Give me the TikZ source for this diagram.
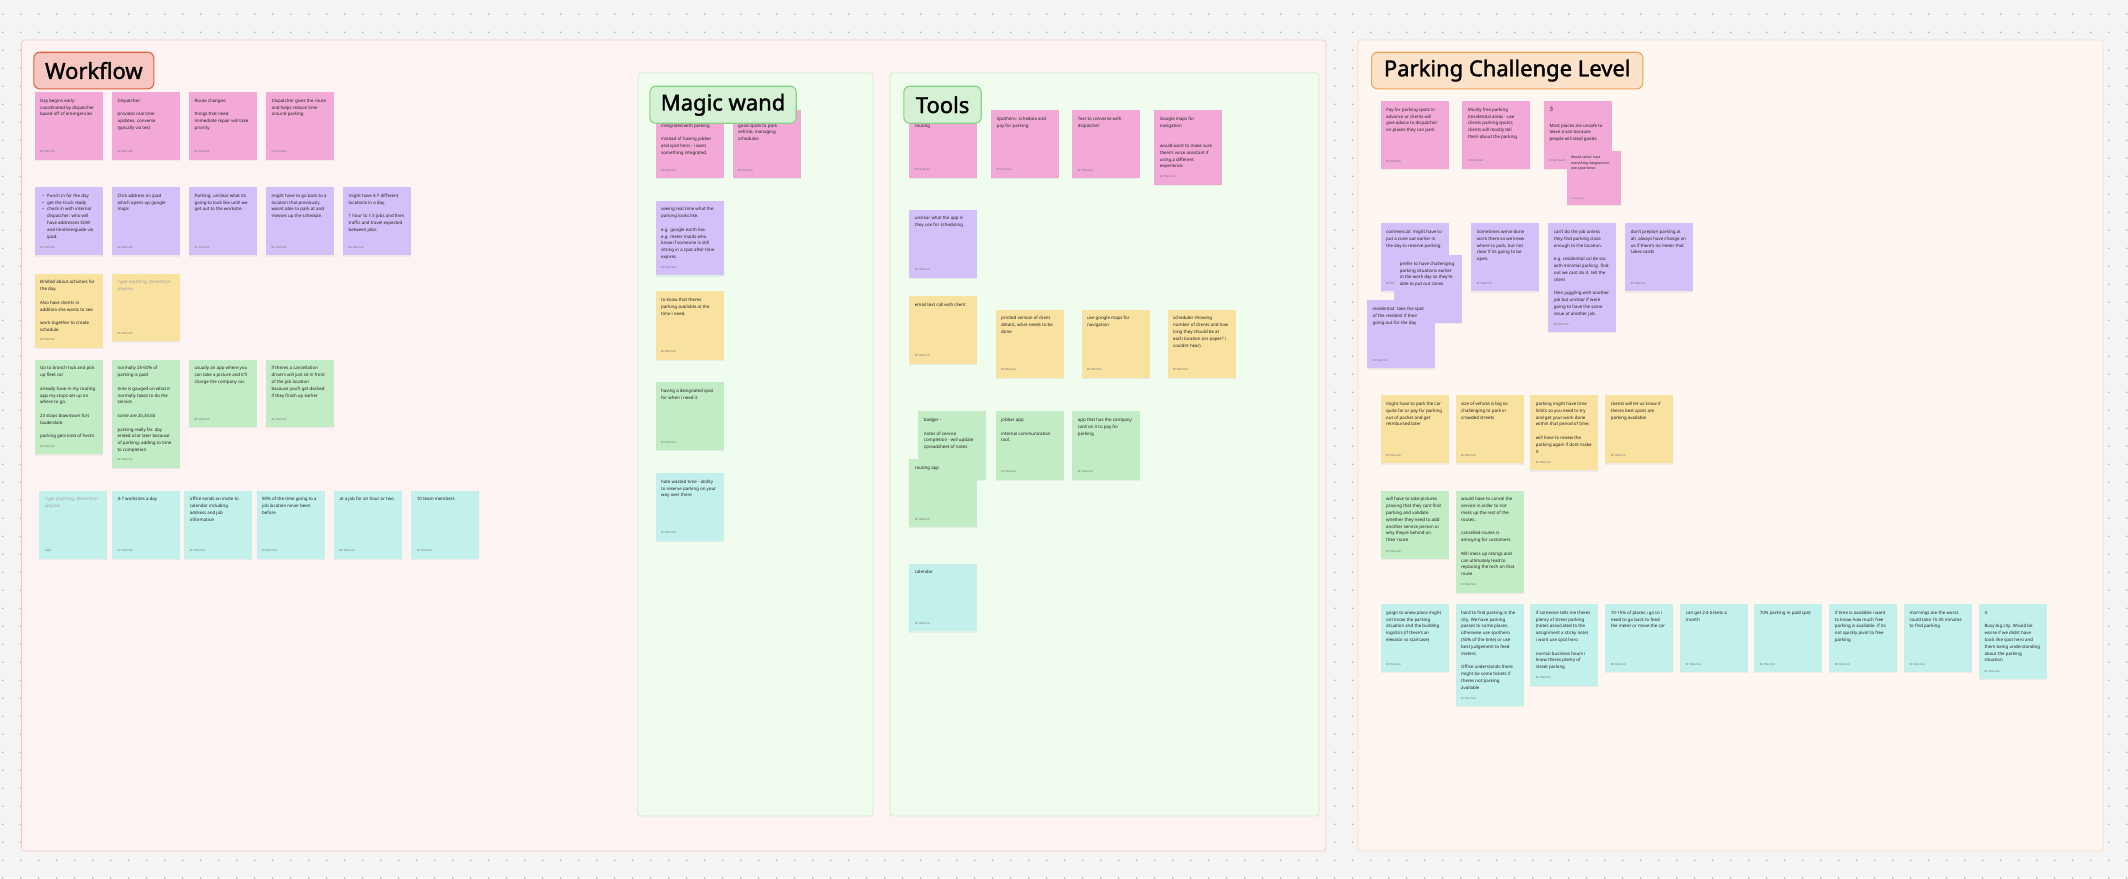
\documentclass[tikz,border=0pt]{standalone}
\usepackage{fontspec}
\setmainfont{Noto Sans}
\usetikzlibrary{shadows}
\definecolor{bgc}{HTML}{F4F4F4}
\definecolor{dotc}{HTML}{B5B5B5}
\definecolor{wfill}{HTML}{FDF3F3}
\definecolor{wborder}{HTML}{F5C8C8}
\definecolor{gfill}{HTML}{EFFCEE}
\definecolor{gborder}{HTML}{CFEDCB}
\definecolor{pfill}{HTML}{FDF6F1}
\definecolor{pborder}{HTML}{F8DDC8}
\definecolor{spink}{HTML}{F2A9D7}
\definecolor{spurple}{HTML}{D3C0F8}
\definecolor{syellow}{HTML}{F9E1A0}
\definecolor{sgreen}{HTML}{C2ECC4}
\definecolor{scyan}{HTML}{C2F1EC}
\definecolor{wtfill}{HTML}{F6C6C1}
\definecolor{wtborder}{HTML}{E2613F}
\definecolor{gtfill}{HTML}{D5F1D4}
\definecolor{gtborder}{HTML}{86D184}
\definecolor{ptfill}{HTML}{FCE2C9}
\definecolor{ptborder}{HTML}{F0A459}
\newcommand\blankln{\\[6.8pt]}
\newcommand\bul{\makebox[7pt][l]{\hspace{2.3pt}•}}
\newcommand\ind{\hspace*{7pt}}
\newcommand\phl[1]{\textcolor{black!38}{#1}}
\newcommand\stk[8]{%
  \node[sticky, fill=#6, minimum width=#4pt, minimum height=#5pt] (#1) at (#2,#3) {};
  \node[stxt] (#1t) at ([xshift=5.7pt,yshift=-5.6pt]#1.north west) {\strut #7};
  \node[sauth] (#1a) at ([xshift=5.7pt,yshift=6.6pt]#1.south west) {#8};
}
\begin{document}
\begin{tikzpicture}[x=1pt,y=-1pt,
  sticky/.style={anchor=north west, inner sep=0pt, draw=none,
    drop shadow={opacity=0.10, shadow xshift=0pt, shadow yshift=-1.3pt}},
  stxt/.style={anchor=north west, inner sep=0pt, align=left,
    font=\fontsize{4.4}{6.8}\selectfont, text=black!88},
  sauth/.style={anchor=south west, inner sep=0pt,
    font=\fontsize{2.8}{3.2}\selectfont, text=black!55},
  frame/.style={rounded corners=3pt, line width=0.8pt},
  title/.style={rounded corners=6pt, line width=1.1pt, inner sep=0pt,
    font=\fontsize{22}{24}\selectfont\addfontfeatures{FakeBold=1.6}}]
\useasboundingbox (0,0) rectangle (2128,878);
\fill[bgc] (0,0) rectangle (2128,878);
\foreach \i in {0,...,118} { \foreach \j in {0,...,48} { \fill[dotc] (2.7+18*\i, 14.3+18*\j) circle (0.95pt); } }

% frames
\draw[frame, fill=wfill, draw=wborder] (21.5,40) rectangle (1326,851);
\draw[frame, fill=gfill, draw=gborder] (638,73) rectangle (873,816);
\draw[frame, fill=gfill, draw=gborder] (890,73) rectangle (1319,816);
\draw[frame, fill=pfill, draw=pborder] (1358,40) rectangle (2103,851);

% ---------------- Workflow ----------------
\node[title, fill=wtfill, draw=wtborder, minimum width=120pt, minimum height=36.6pt, anchor=north west] (wft) at (33.3,51.7) {Workflow};

\stk{w1}{34.3}{91.7}{68}{67.6}{spink}{Day begins early -\\coordinated by dispatcher\\based off of emergencies}{Bri Warnick}
\stk{w2}{111.7}{91.7}{68}{67.6}{spink}{\textbf{Dispatcher:}\blankln provides real time\\updates. converse\\typically via text}{Bri Warnick}
\stk{w3}{188.7}{91.7}{68}{67.6}{spink}{\textbf{Route changes:}\blankln things that need\\immediate repair will take\\priority}{Bri Warnick}
\stk{w4}{265.7}{91.7}{68}{67.6}{spink}{Dispatcher gives the route\\and helps reduce time\\around parking}{Emily Stuart}

\stk{w5}{34.3}{186.7}{68}{68.3}{spurple}{\bul Punch in for the day\\\bul get the truck ready\\\bul check in with internal\\\ind dispatcher: who will\\\ind have addresses SOW\\\ind and timeline/guide via\\\ind ipad.}{Bri Warnick}
\stk{w6}{111.7}{186.7}{68}{68.3}{spurple}{Click address on ipad\\which opens up google\\maps}{Bri Warnick}
\stk{w7}{188.7}{186.7}{68}{68.3}{spurple}{Parking: unclear what its\\going to look like until we\\get out to the worksite.}{Bri Warnick}
\stk{w8}{265.7}{186.7}{68}{68.3}{spurple}{might have to go back to a\\location that previously\\wasnt able to park at and\\messes up the schedule.}{Bri Warnick}
\stk{w9}{342.7}{186.7}{68}{68.3}{spurple}{might have 4-7 different\\locations in a day.\blankln 1 hour to 1.5 jobs and then\\traffic and travel expected\\between jobs.}{Bri Warnick}

\stk{w10}{34.3}{273.3}{68}{74}{syellow}{Briefed about activities for\\the day.\blankln Also have clients in\\addition she wants to see\blankln work together to create\\schedule}{Bri Warnick}
\stk{w11}{111.7}{273.3}{68}{67.7}{syellow}{\phl{Type anything, @mention}\\\phl{anyone}}{Bri Warnick}

\stk{w12}{34.3}{359.3}{68}{94.7}{sgreen}{Go to branch hub and pick\\up fleet car\blankln already have in my routing\\app my stops set up on\\where to go.\blankln 23 stops downtown fort\\lauderdale.\blankln parking gets kind of hectic}{Bri Warnick}
\stk{w13}{111.7}{359.3}{68}{108}{sgreen}{normally 25-50\% of\\parking is paid\blankln time is gauged on what it\\normally takes to do the\\service.\blankln some are 20,30,60\blankln parking really far. day\\ended a lot later because\\of parking; adding to time\\to completion}{Bri Warnick}
\stk{w14}{188.7}{359.3}{68}{67.4}{sgreen}{usually an app where you\\can take a picture and it'll\\charge the company car.}{Bri Warnick}
\stk{w15}{265.7}{359.3}{68}{67.4}{sgreen}{if theres a cancellation\\drivers will just sit in front\\of the job location\\because you'll get docked\\if they finish up earlier}{Bri Warnick}

\stk{w16}{39}{490.3}{68}{68}{scyan}{\phl{Type anything, @mention}\\\phl{anyone}}{Kapil}
\stk{w17}{111.7}{490.3}{68}{68}{scyan}{4-7 worksites a day}{Bri Warnick}
\stk{w18}{184}{490.3}{68}{68}{scyan}{office sends an invite to\\calendar including\\address and job\\information}{Bri Warnick}
\stk{w19}{256.3}{490.3}{68}{68}{scyan}{90\% of the time going to a\\job location never been\\before}{Bri Warnick}
\stk{w20}{333.7}{490.3}{68}{68}{scyan}{at a job for an hour or two}{Bri Warnick}
\stk{w21}{411}{490.3}{68}{68}{scyan}{10 team members}{Bri Warnick}

% ---------------- Magic wand ----------------
\stk{m1}{655.3}{109.7}{68}{68}{spink}{\mbox{}\\integrated with parking\blankln instead of having jobber\\and spot hero - i want\\something integrated.}{Bri Warnick}
\stk{m2}{732.3}{109.7}{68}{68}{spink}{\mbox{}\\good spots to park\\vehicle, managing\\schedules}{Bri Warnick}
\stk{m3}{655.3}{200.3}{68}{74.7}{spurple}{seeing real time what the\\parking looks like.\blankln e.g. google earth live.\\e.g. meter maids who\\know if someone is still\\sitting in a spot after time\\expires.}{Bri Warnick}
\stk{m4}{655.3}{291}{68}{68.3}{syellow}{to know that theres\\parking available at the\\time i need.}{Bri Warnick}
\stk{m5}{655.3}{382}{68}{67.7}{sgreen}{having a designated spot\\for when i need it}{Bri Warnick}
\stk{m6}{655.3}{472.7}{68}{67.7}{scyan}{hate wasted time - ability\\to reserve parking on your\\way over there}{Bri Warnick}
\node[title, fill=gtfill, draw=gtborder, minimum width=146.4pt, minimum height=37pt, anchor=north west] (mwt) at (649.3,85.7) {Magic wand};

% ---------------- Tools ----------------
\stk{t1}{909}{109.7}{68}{68}{spink}{\mbox{}\\routing}{Emily Stuart}
\stk{t2}{991}{109.7}{68}{68}{spink}{Spothero: schedule and\\pay for parking}{Emily Stuart}
\stk{t3}{1072}{109.7}{68}{68}{spink}{Text to converse with\\dispatcher}{Bri Warnick}
\stk{t4}{1154}{109.7}{68}{74.6}{spink}{Google maps for\\navigation\\[13.6pt]would want to make sure\\there's voice assistant if\\using a different\\experience.}{Bri Warnick}
\node[title, fill=gtfill, draw=gtborder, minimum width=77.4pt, minimum height=37pt, anchor=north west] (tlt) at (903.3,85.7) {Tools};
\stk{t5}{909}{209.3}{68}{68}{spurple}{unclear what the app is\\they use for scheduling}{Bri Warnick}
\stk{t6}{909}{295.7}{68}{67.6}{syellow}{email text call with client}{Bri Warnick}
\stk{t7}{995.3}{309.3}{68}{68}{syellow}{printed version of client\\details, what needs to be\\done}{Bri Warnick}
\stk{t8}{1081.3}{309.3}{68}{68}{syellow}{use google maps for\\navigation}{Bri Warnick}
\stk{t9}{1167.3}{309.3}{68}{68}{syellow}{scheduler showing\\number of clients and how\\long they should be at\\each location (on paper? i\\couldnt hear)}{Bri Warnick}
\stk{t10}{918}{411}{68}{68.3}{sgreen}{badger -\blankln notes of service\\completion - will update\\spreadsheet of notes}{Bri Warnick}
\stk{t11}{995.3}{411}{68}{68.3}{sgreen}{jobber app\blankln internal communication\\tool.}{Bri Warnick}
\stk{t12}{1072}{411}{68}{68.3}{sgreen}{app that has the company\\card on it to pay for\\parking}{Bri Warnick}
\stk{t13}{909}{459}{68}{67.7}{sgreen}{routing app}{Bri Warnick}
\stk{t14}{909}{563.3}{68}{67.7}{scyan}{calendar}{Bri Warnick}

% ---------------- Parking Challenge Level ----------------
\node[title, fill=ptfill, draw=ptborder, minimum width=271.3pt, minimum height=36.6pt, anchor=north west] (pct) at (1371,51.7) {Parking Challenge Level};

\stk{k1}{1380.3}{100.7}{68}{68}{spink}{Pay for parking spots in\\advance or clients will\\give advice to dispatcher\\on places they can park}{Bri Warnick}
\stk{k2}{1462}{100.7}{68}{68}{spink}{Mostly free parking\\(residential areas - use\\clients parking spots);\\clients will mostly tell\\them about the parking}{Emily Stuart}
\stk{k3}{1543.7}{100.7}{68}{68}{spink}{{\fontsize{6}{8}\selectfont\bfseries 3}\\[9pt]Most places are unsafe to\\leave a van because\\people will steal goods}{Emily Stuart}
\node[sticky, fill=spink, minimum width=54pt, minimum height=54pt] (k4) at (1566.3,150.7) {};
\node[stxt, font=\fontsize{3.4}{5.3}\selectfont] (k4t) at ([xshift=4.5pt,yshift=-4.2pt]k4.north west) {\strut Would rather have\\everything integrated in\\one experience};
\node[sauth, font=\fontsize{2.3}{2.6}\selectfont] (k4a) at ([xshift=4.5pt,yshift=5.3pt]k4.south west) {Emily Stuart};

\stk{k5}{1380.3}{223}{68}{68}{spurple}{commercial: might have to\\put a cone out earlier in\\the day to reserve parking}{Bri Warnick}
\stk{k6}{1394}{254.7}{68}{68}{spurple}{prefer to have challenging\\parking situations earlier\\in the work day so they're\\able to put out cones}{Bri Warnick}
\stk{k7}{1366.7}{300}{68}{68}{spurple}{residential: take the spot\\of the resident if their\\going out for the day}{Bri Warnick}
\stk{k8}{1471}{223}{68}{68}{spurple}{Sometimes we've done\\work there so we knew\\where to park, but not\\clear if its going to be\\open.}{Bri Warnick}
\stk{k9}{1548}{223}{68}{108.7}{spurple}{can't do the job unless\\they find parking close\\enough to the location.\blankln e.g. residential cul de sac\\with minimal parking. find\\out we cant do it. tell the\\client\blankln then juggling with another\\job but unclear if were\\going to have the same\\issue at another job.}{Bri Warnick}
\stk{k10}{1625}{223}{68}{68}{spurple}{don't preplan parking at\\all. always have change on\\us if there's no meter that\\takes cards}{Bri Warnick}

\stk{k11}{1380.3}{395}{68}{68}{syellow}{might have to park the car\\quite far or pay for parking\\out of pocket and get\\reimbursed later}{Bri Warnick}
\stk{k12}{1455.3}{395}{68}{68}{syellow}{size of vehicle is big so\\challenging to park in\\crowded streets}{Bri Warnick}
\stk{k13}{1530}{395}{68}{75}{syellow}{parking might have time\\limits so you need to try\\and get your work done\\within that period of time.\blankln will have to renew the\\parking again if dont make\\it}{Bri Warnick}
\stk{k14}{1605}{395}{68}{68}{syellow}{clients will let us know if\\theres best spots are\\parking available}{Bri Warnick}

\stk{k15}{1380.3}{490.3}{68}{68.4}{sgreen}{will have to take pictures\\proving that they cant find\\parking and validate\\whether they need to add\\another service person or\\why theyre behind on\\their route}{Bri Warnick}
\stk{k16}{1455.3}{490.3}{68}{102}{sgreen}{would have to cancel the\\service in order to not\\mess up the rest of the\\routes.\blankln cancelled routes is\\annoying for customers\blankln Will mess up ratings and\\can ultimately lead to\\replacing the tech on that\\route}{Bri Warnick}

\stk{k17}{1380.3}{603.7}{68}{68}{scyan}{goign to anew place might\\ont know the parking\\situation and the building\\logistics (if there's an\\elevator vs staircase)}{Bri Warnick}
\stk{k18}{1455.3}{603.7}{68}{102}{scyan}{hard to find parking in the\\city. We have parking\\passes to some places.\\otherwise use spothero\\(50\% of the time) or use\\best judgement to feed\\meters.\blankln Office understands there\\might be some tickets if\\theres not parking\\available}{Bri Warnick}
\stk{k19}{1530}{603.7}{68}{81.6}{scyan}{if someone tells me theres\\plenty of street parking\\(notes associated to the\\assignment a sticky note)\\i wont use spot hero\blankln normal business hours i\\know theres plenty of\\street parking}{Bri Warnick}
\stk{k20}{1605}{603.7}{68}{68}{scyan}{10-15\% of places i go to i\\need to go back to feed\\the meter or move the car}{Bri Warnick}
\stk{k21}{1680}{603.7}{68}{68}{scyan}{can get 2-4 tickets a\\month}{Bri Warnick}
\stk{k22}{1754}{603.7}{68}{68}{scyan}{70\% parking in paid spot}{Bri Warnick}
\stk{k23}{1829}{603.7}{68}{68}{scyan}{if time is available i want\\to know how much free\\parking is available. if its\\not quickly pivot to free\\parking}{Bri Warnick}
\stk{k24}{1903.7}{603.7}{68}{68}{scyan}{mornings are the worst.\\could take 15-30 minutes\\to find parking}{Bri Warnick}
\stk{k25}{1978.7}{603.7}{68}{75}{scyan}{4\blankln Busy big city. Would be\\worse if we didnt have\\tools like spot hero and\\them being understanding\\about the parking\\situation}{Bri Warnick}
\end{tikzpicture}
\end{document}
